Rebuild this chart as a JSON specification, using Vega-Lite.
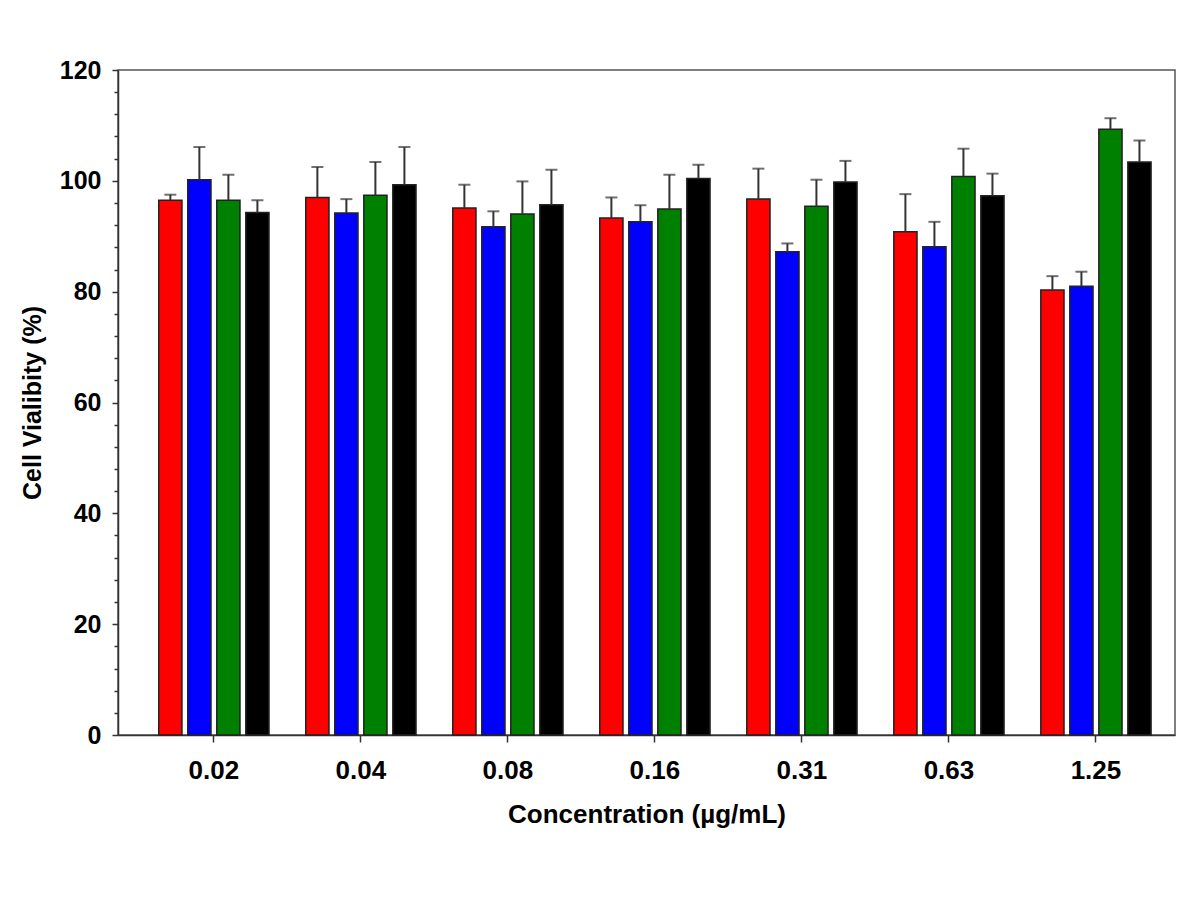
{
  "$schema": "https://vega.github.io/schema/vega-lite/v6.json",
  "autosize": {"type": "none"},
  "padding": {"left": 118, "top": 70, "right": 25, "bottom": 165},
  "width": 1057,
  "height": 665,
  "background": "white",
  "config": {
    "view": {"stroke": "#555", "strokeWidth": 1.5},
    "axis": {
      "labelFont": "Liberation Sans",
      "labelFontWeight": "bold",
      "labelFontSize": 26,
      "labelColor": "black",
      "titleFont": "Liberation Sans",
      "titleFontWeight": "bold",
      "titleFontSize": 26,
      "titleColor": "black",
      "domainColor": "#333",
      "domainWidth": 1.5,
      "tickColor": "#333",
      "tickWidth": 1.5,
      "grid": false
    },
    "axisY": {
      "labelFontSize": 25,
      "titleFontSize": 25,
      "labelOverlap": false,
      "labelPadding": 11,
      "titlePadding": 14
    }
  },
  "data": {
    "values": [
      {"conc": "0.02", "group": "A", "value": 96.5, "upper": 97.5},
      {"conc": "0.02", "group": "B", "value": 100.2, "upper": 106.1},
      {"conc": "0.02", "group": "C", "value": 96.5, "upper": 101.1},
      {"conc": "0.02", "group": "D", "value": 94.3, "upper": 96.5},
      {"conc": "0.04", "group": "A", "value": 97.0, "upper": 102.5},
      {"conc": "0.04", "group": "B", "value": 94.2, "upper": 96.7},
      {"conc": "0.04", "group": "C", "value": 97.4, "upper": 103.4},
      {"conc": "0.04", "group": "D", "value": 99.3, "upper": 106.1},
      {"conc": "0.08", "group": "A", "value": 95.1, "upper": 99.3},
      {"conc": "0.08", "group": "B", "value": 91.7, "upper": 94.5},
      {"conc": "0.08", "group": "C", "value": 94.0, "upper": 99.9},
      {"conc": "0.08", "group": "D", "value": 95.7, "upper": 102.0},
      {"conc": "0.16", "group": "A", "value": 93.3, "upper": 97.0},
      {"conc": "0.16", "group": "B", "value": 92.6, "upper": 95.6},
      {"conc": "0.16", "group": "C", "value": 94.9, "upper": 101.1},
      {"conc": "0.16", "group": "D", "value": 100.4, "upper": 102.9},
      {"conc": "0.31", "group": "A", "value": 96.7, "upper": 102.2},
      {"conc": "0.31", "group": "B", "value": 87.2, "upper": 88.7},
      {"conc": "0.31", "group": "C", "value": 95.4, "upper": 100.2},
      {"conc": "0.31", "group": "D", "value": 99.8, "upper": 103.6},
      {"conc": "0.63", "group": "A", "value": 90.8, "upper": 97.6},
      {"conc": "0.63", "group": "B", "value": 88.1, "upper": 92.6},
      {"conc": "0.63", "group": "C", "value": 100.8, "upper": 105.8},
      {"conc": "0.63", "group": "D", "value": 97.3, "upper": 101.3},
      {"conc": "1.25", "group": "A", "value": 80.3, "upper": 82.8},
      {"conc": "1.25", "group": "B", "value": 81.0, "upper": 83.6},
      {"conc": "1.25", "group": "C", "value": 109.3, "upper": 111.3},
      {"conc": "1.25", "group": "D", "value": 103.4, "upper": 107.3}
    ]
  },
  "encoding": {
    "x": {
      "field": "conc",
      "type": "nominal",
      "sort": ["0.02", "0.04", "0.08", "0.16", "0.31", "0.63", "1.25"],
      "scale": {"paddingInner": 0.25, "paddingOuter": 0.22, "align": 0.63},
      "axis": {
        "title": "Concentration (µg/mL)",
        "labelAngle": 0,
        "tickSize": 7,
        "labelPadding": 15,
        "titlePadding": 18
      }
    },
    "xOffset": {
      "field": "group",
      "type": "nominal",
      "sort": ["A", "B", "C", "D"],
      "scale": {"paddingInner": 0.2, "paddingOuter": 0}
    }
  },
  "layer": [
    {
      "mark": {"type": "bar", "stroke": "#222", "strokeWidth": 1.5},
      "encoding": {
        "y": {
          "field": "value",
          "type": "quantitative",
          "scale": {"domain": [0, 120], "nice": false},
          "axis": {
            "title": "Cell Vialibity (%)",
            "values": [0, 4, 8, 12, 16, 20, 24, 28, 32, 36, 40, 44, 48, 52, 56, 60, 64, 68, 72, 76, 80, 84, 88, 92, 96, 100, 104, 108, 112, 116, 120],
            "labelExpr": "datum.value % 20 === 0 ? datum.label : ''",
            "labelOverlap": false,
            "tickSize": {"condition": {"test": "datum.value % 20 === 0", "value": 6}, "value": 4}
          }
        },
        "color": {
          "field": "group",
          "type": "nominal",
          "scale": {"domain": ["A", "B", "C", "D"], "range": ["#FF0000", "#0000FF", "#008000", "#000000"]},
          "legend": null
        }
      }
    },
    {
      "mark": {"type": "rule", "color": "#333", "strokeWidth": 2},
      "encoding": {
        "y": {
          "field": "value",
          "type": "quantitative",
          "axis": {
            "title": "Cell Vialibity (%)",
            "values": [0, 4, 8, 12, 16, 20, 24, 28, 32, 36, 40, 44, 48, 52, 56, 60, 64, 68, 72, 76, 80, 84, 88, 92, 96, 100, 104, 108, 112, 116, 120],
            "labelExpr": "datum.value % 20 === 0 ? datum.label : ''",
            "labelOverlap": false,
            "tickSize": {"condition": {"test": "datum.value % 20 === 0", "value": 6}, "value": 4}
          }
        },
        "y2": {"field": "upper"}
      }
    },
    {
      "mark": {"type": "tick", "color": "#333", "thickness": 2, "size": 12},
      "encoding": {
        "y": {
          "field": "upper",
          "type": "quantitative",
          "axis": {
            "title": "Cell Vialibity (%)",
            "values": [0, 4, 8, 12, 16, 20, 24, 28, 32, 36, 40, 44, 48, 52, 56, 60, 64, 68, 72, 76, 80, 84, 88, 92, 96, 100, 104, 108, 112, 116, 120],
            "labelExpr": "datum.value % 20 === 0 ? datum.label : ''",
            "labelOverlap": false,
            "tickSize": {"condition": {"test": "datum.value % 20 === 0", "value": 6}, "value": 4}
          }
        }
      }
    }
  ]
}
